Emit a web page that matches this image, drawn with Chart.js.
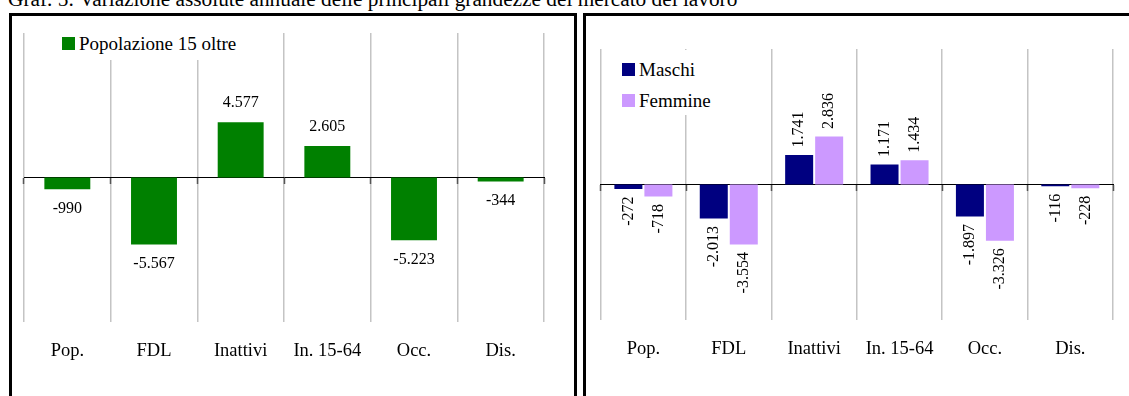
<!DOCTYPE html>
<html lang="it">
<head>
    <meta charset="UTF-8">
    <title>Graf. 5</title>
    <!-- Libreria Chart.js -->
    <script src="https://cdn.jsdelivr.net/npm/chart.js"></script>
    <style>
        body { margin: 0; width: 1129px; height: 396px; overflow: hidden; background: #fff; position: relative; font-family: "Liberation Serif", "Times New Roman", serif; }
        .titolo { position: absolute; left: 8px; top: -11px; font-size: 21.3px; line-height: 21.3px; white-space: nowrap; color: #000; }
        .pannello { position: absolute; top: 13px; height: 420px; border: 3px solid #000; box-sizing: border-box; }
        canvas { position: absolute; }
        .legenda { position: absolute; background: #fff; font-size: 19px; color: #000; box-sizing: border-box; }
        .voce { display: flex; align-items: center; }
        .quadrato { width: 13px; height: 13px; margin-right: 4px; flex: none; }
    </style>
</head>
<body>
    <div class="titolo">Graf. 5: Variazione assolute annuale delle principali grandezze del mercato del lavoro</div>

    <div class="pannello" style="left: 9px; width: 568px;"></div>
    <div class="pannello" style="left: 583px; width: 570px;"></div>

    <canvas id="graficoTotale" width="562" height="380" style="left: 12px; top: 16px; width: 562px; height: 380px;"></canvas>
    <canvas id="graficoSesso" width="543" height="380" style="left: 586px; top: 16px; width: 543px; height: 380px;"></canvas>

    <div id="legendaTotale" class="legenda" style="left: 40px; top: 31px; width: 220px; height: 29px; padding-left: 22px;"></div>
    <div id="legendaSesso" class="legenda" style="left: 605px; top: 50px; width: 118px; height: 65px; padding: 4px 0 0 17px;"></div>

    <script>
        // Categorie e valori (migliaia)
        var categorie = ['Pop.', 'FDL', 'Inattivi', 'In. 15-64', 'Occ.', 'Dis.'];
        var popolazione15 = [-990, -5567, 4577, 2605, -5223, -344];
        var maschi = [-272, -2013, 1741, 1171, -1897, -116];
        var femmine = [-718, -3554, 2836, 1434, -3326, -228];

        // separatore delle migliaia con il punto
        function formatta(v) {
            var s = Math.abs(v).toString().replace(/\B(?=(\d{3})+(?!\d))/g, '.');
            return (v < 0 ? '-' : '') + s;
        }

        // Plugin per scrivere i valori sopra/sotto le barre
        var etichetteValori = {
            id: 'etichetteValori',
            afterDatasetsDraw: function(chart, args, opts) {
                var ctx = chart.ctx;
                ctx.save();
                ctx.font = '16px "Liberation Serif"';
                ctx.fillStyle = '#000';
                chart.data.datasets.forEach(function(ds, i) {
                    chart.getDatasetMeta(i).data.forEach(function(barra, j) {
                        var v = ds.data[j];
                        var testo = formatta(v);
                        if (opts.ruota) {
                            ctx.save();
                            ctx.translate(barra.x, barra.y);
                            ctx.rotate(-Math.PI / 2);
                            ctx.textBaseline = 'middle';
                            if (v >= 0) {
                                ctx.textAlign = 'left';
                                ctx.fillText(testo, opts.distanza, 0);
                            } else {
                                ctx.textAlign = 'right';
                                ctx.fillText(testo, -opts.distanza, 0);
                            }
                            ctx.restore();
                        } else {
                            ctx.textAlign = 'center';
                            ctx.textBaseline = 'middle';
                            ctx.fillText(testo, barra.x, v >= 0 ? barra.y - opts.distanza : barra.y + opts.distanza);
                        }
                    });
                });
                ctx.restore();
            }
        };

        function creaScale(limite) {
            return {
                x: {
                    position: 'bottom',
                    offset: true,
                    grid: { offset: true, color: '#c4c4c4', lineWidth: 1.5, drawTicks: false },
                    border: { display: false },
                    ticks: { font: { family: 'Liberation Serif', size: 18.5 }, color: '#000', padding: 18 }
                },
                asseZero: {
                    axis: 'x',
                    type: 'category',
                    labels: categorie,
                    position: { y: 0 },
                    offset: true,
                    grid: { offset: true, drawOnChartArea: false, drawTicks: true, tickLength: 6, tickColor: '#555', tickWidth: 1.5 },
                    ticks: { display: false },
                    border: { color: '#000', width: 1 }
                },
                y: { display: false, min: -limite, max: limite }
            };
        }

        // Legenda in HTML con sfondo bianco
        function creaLegenda(chart, idDiv, altezzaVoce) {
            var div = document.getElementById(idDiv);
            chart.data.datasets.forEach(function(ds) {
                var voce = document.createElement('div');
                voce.className = 'voce';
                voce.style.height = altezzaVoce + 'px';
                var q = document.createElement('span');
                q.className = 'quadrato';
                q.style.background = ds.backgroundColor;
                var t = document.createElement('span');
                t.textContent = ds.label;
                voce.appendChild(q);
                voce.appendChild(t);
                div.appendChild(voce);
            });
        }

        var graficoTotale = new Chart(document.getElementById('graficoTotale').getContext('2d'), {
            type: 'bar',
            data: {
                labels: categorie,
                datasets: [{
                    label: 'Popolazione 15 oltre',
                    data: popolazione15,
                    backgroundColor: '#008000',
                    borderWidth: 0,
                    xAxisID: 'x',
                    yAxisID: 'y',
                    categoryPercentage: 0.53,
                    barPercentage: 1
                }]
            },
            options: {
                responsive: false,
                animation: false,
                devicePixelRatio: 1,
                layout: { padding: { left: 12, right: 30, top: 17, bottom: 16 } },
                plugins: {
                    legend: { display: false },
                    tooltip: { enabled: false },
                    etichetteValori: { ruota: false, distanza: 19.5 }
                },
                scales: creaScale(12000)
            },
            plugins: [etichetteValori]
        });

        var graficoSesso = new Chart(document.getElementById('graficoSesso').getContext('2d'), {
            type: 'bar',
            data: {
                labels: categorie,
                datasets: [{
                    label: 'Maschi',
                    data: maschi,
                    backgroundColor: '#000080',
                    borderWidth: 0,
                    xAxisID: 'x',
                    yAxisID: 'y',
                    categoryPercentage: 0.703,
                    barPercentage: 0.933
                }, {
                    label: 'Femmine',
                    data: femmine,
                    backgroundColor: '#cc99ff',
                    borderWidth: 0,
                    xAxisID: 'x',
                    yAxisID: 'y',
                    categoryPercentage: 0.703,
                    barPercentage: 0.933
                }]
            },
            options: {
                responsive: false,
                animation: false,
                devicePixelRatio: 1,
                layout: { padding: { left: 14.7, right: 16, top: 33, bottom: 18 } },
                plugins: {
                    legend: { display: false },
                    tooltip: { enabled: false },
                    etichetteValori: { ruota: true, distanza: 7.5 }
                },
                scales: creaScale(8000)
            },
            plugins: [etichetteValori]
        });

        creaLegenda(graficoTotale, 'legendaTotale', 25);
        creaLegenda(graficoSesso, 'legendaSesso', 31);
    </script>
</body>
</html>
